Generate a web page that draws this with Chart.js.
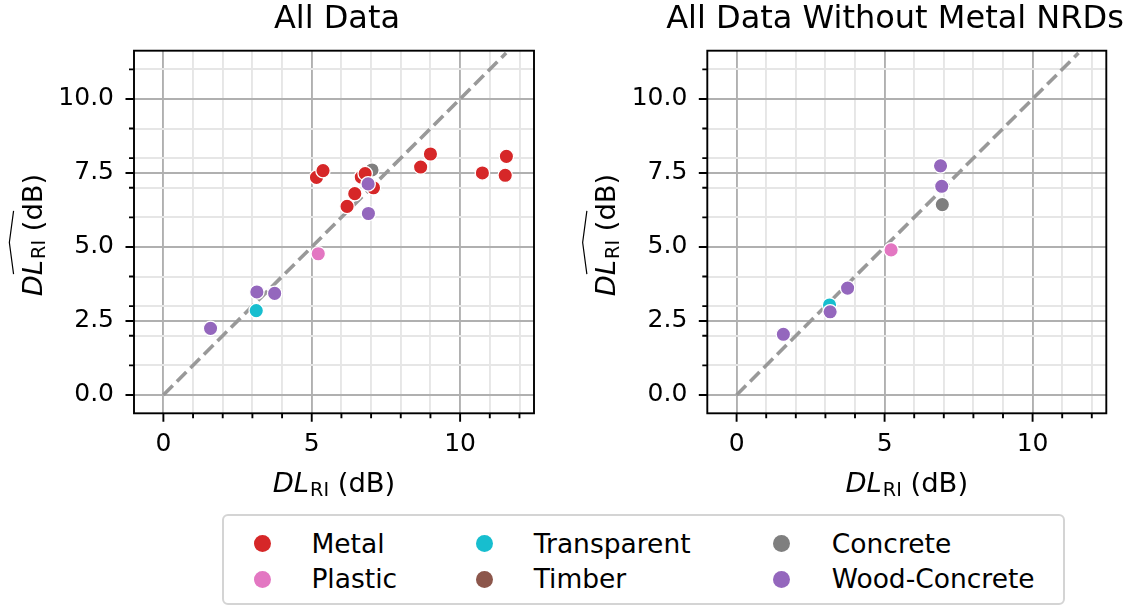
<!DOCTYPE html>
<html><head><meta charset="utf-8">
<script src="https://cdn.jsdelivr.net/npm/chart.js@4.4.0/dist/chart.umd.min.js"></script>
<style>
html,body{margin:0;padding:0;background:#fff;}
body{width:1133px;height:608px;position:relative;overflow:hidden;font-family:"DejaVu Sans";}
.wrap{position:absolute;top:0;height:500px;}
#w1{left:0;width:674px;}
#w2{left:566px;width:658px;}
#legend{position:absolute;left:222px;top:514px;width:843px;height:91px;border:2px solid #d4d4d4;border-radius:6px;box-sizing:border-box;background:#fff;}
.lt{position:absolute;font-size:26.5px;line-height:30px;height:30px;color:#000;white-space:nowrap;}
.ld{position:absolute;width:17px;height:17px;border-radius:50%;}
</style></head>
<body>
<div class="wrap" id="w1"><canvas id="c1"></canvas></div>
<div class="wrap" id="w2"><canvas id="c2"></canvas></div>
<div id="legend"></div>
<script>
// ---------- data ----------
const categories = ['Metal','Plastic','Transparent','Timber','Concrete','Wood-Concrete'];
const colors = ['#d62728','#e377c2','#17becf','#8c564b','#7f7f7f','#9467bd'];

// Panel 1: All Data
const allMetalX = [5.16, 5.38, 6.67, 6.80, 7.08, 6.45, 6.19, 8.67, 9.00, 10.75, 11.56, 11.52];
const allMetalY = [7.35, 7.58, 7.36, 7.48, 7.00, 6.80, 6.37, 7.70, 8.14, 7.50, 8.06, 7.42];
const allPlasticX = [5.22];
const allPlasticY = [4.77];
const allTransparentX = [3.13];
const allTransparentY = [2.85];
const allTimberX = [];
const allTimberY = [];
const allConcreteX = [7.03];
const allConcreteY = [7.60];
const allWoodX = [6.90, 6.91, 3.15, 3.75, 1.59];
const allWoodY = [7.13, 6.13, 3.48, 3.43, 2.25];

// Panel 2: All Data Without Metal NRDs
const noMetalPlasticX = [5.22];
const noMetalPlasticY = [4.90];
const noMetalTransparentX = [3.14];
const noMetalTransparentY = [3.04];
const noMetalTimberX = [];
const noMetalTimberY = [];
const noMetalConcreteX = [6.95];
const noMetalConcreteY = [6.43];
const noMetalWoodX = [6.89, 6.93, 3.75, 3.16, 1.58];
const noMetalWoodY = [7.74, 7.05, 3.61, 2.81, 2.05];

// identity line
const lineX = [0, 11.55];
const lineY = [0, 11.55];

// ticks
const xMajorTicks = [0, 5, 10];
const xMinorTicks = [1, 2, 3, 4, 6, 7, 8, 9, 11, 12];
const yMajorTicks = [0, 2.5, 5, 7.5, 10];
const yMinorTicks = [1, 2, 3, 4, 6, 7, 8, 9, 11];
const xLabels = ['0', '5', '10'];
const yLabels = ['0.0', '2.5', '5.0', '7.5', '10.0'];

const titles = ['All Data', 'All Data Without Metal NRDs'];

// ---------- helpers ----------
Chart.defaults.font.family = '"DejaVu Sans"';
Chart.defaults.color = '#000';
const pts = (xs, ys) => xs.map((x, i) => ({x, y: ys[i]}));

function scatterSet(label, xs, ys, color, order) {
  return {label, data: pts(xs, ys), backgroundColor: color, borderColor: '#ffffff',
          borderWidth: 1.3, pointRadius: 7.2, pointHoverRadius: 7.2, order};
}
function lineSet() {
  return {label: 'identity', data: pts(lineX, lineY), showLine: true, pointRadius: 0,
          borderColor: '#999999', borderWidth: 3.6, borderDash: [13.3, 5.8], order: 10, fill: false};
}

const allX = xMajorTicks.concat(xMinorTicks).sort((a, b) => a - b);
const allY = yMajorTicks.concat(yMinorTicks).sort((a, b) => a - b);

const framePlugin = {
  id: 'frameTicks',
  afterDraw(chart) {
    const {ctx, chartArea: a, scales: {x, y}} = chart;
    ctx.save();
    ctx.strokeStyle = '#000';
    ctx.lineWidth = 1.9;
    ctx.beginPath();
    xMajorTicks.forEach(v => { const p = x.getPixelForValue(v); ctx.moveTo(p, a.bottom); ctx.lineTo(p, a.bottom + 8.5); });
    xMinorTicks.forEach(v => { const p = x.getPixelForValue(v); ctx.moveTo(p, a.bottom); ctx.lineTo(p, a.bottom + 5); });
    yMajorTicks.forEach(v => { const p = y.getPixelForValue(v); ctx.moveTo(a.left, p); ctx.lineTo(a.left - 8.5, p); });
    yMinorTicks.forEach(v => { const p = y.getPixelForValue(v); ctx.moveTo(a.left, p); ctx.lineTo(a.left - 5, p); });
    ctx.stroke();
    ctx.strokeRect(a.left, a.top, a.right - a.left, a.bottom - a.top);
    ctx.restore();
  }
};

const axisTitlePlugin = {
  id: 'axisTitles',
  afterDraw(chart) {
    const {ctx, chartArea: a} = chart;
    const size = 27.4;
    const k = size / 26;
    const parts = [
      {t: 'DL', font: `italic ${size}px "DejaVu Sans"`, dy: 0, gap: 1},
      {t: 'RI', font: `${size * 0.7}px "DejaVu Sans"`, dy: 3.7, gap: 0},
      {t: ' (dB)', font: `${size}px "DejaVu Sans"`, dy: 0, gap: 0}
    ];
    ctx.save();
    ctx.fillStyle = '#000';
    ctx.textBaseline = 'alphabetic';
    ctx.textAlign = 'left';
    const widths = parts.map(p => { ctx.font = p.font; return ctx.measureText(p.t).width + p.gap; });
    const total = widths.reduce((s, w) => s + w, 0);
    const drawParts = () => {
      let u = -total / 2;
      parts.forEach((p, i) => { ctx.font = p.font; ctx.fillText(p.t, u, p.dy); u += widths[i]; });
    };
    // x-axis title
    ctx.save();
    ctx.translate((a.left + a.right) / 2, a.bottom + 79);
    drawParts();
    ctx.restore();
    // y-axis title with wide hat
    ctx.save();
    ctx.translate(a.left - 92.5, (a.top + a.bottom) / 2 + 3);
    ctx.rotate(-Math.PI / 2);
    drawParts();
    const u0 = -total / 2;
    ctx.beginPath();
    ctx.lineWidth = 1.2;
    ctx.strokeStyle = '#000';
    ctx.moveTo(u0 + 21 * k, -26.5 * k);
    ctx.lineTo(u0 + 51 * k, -30.5 * k);
    ctx.lineTo(u0 + 81 * k, -26.5 * k);
    ctx.stroke();
    ctx.restore();
    ctx.restore();
  }
};

function makeChart(id, datasets, title, leftW, rightW) {
  return new Chart(document.getElementById(id), {
    type: 'scatter',
    data: {datasets},
    options: {
      responsive: true,
      maintainAspectRatio: false,
      animation: false,
      events: [],
      layout: {padding: 0},
      plugins: {
        legend: {display: false},
        tooltip: {enabled: false},
        title: {display: true, text: title, font: {size: 32, weight: 'normal'}, color: '#000',
                padding: {top: 0.5, bottom: 11.8}}
      },
      scales: {
        x: {
          type: 'linear', position: 'bottom', min: -0.99, max: 12.49,
          afterBuildTicks: s => { s.ticks = allX.map(v => ({value: v})); },
          afterFit: s => { s.height = 86.7; },
          ticks: {autoSkip: false, maxRotation: 0, padding: 16, font: {size: 25}, color: '#000',
                  callback: v => { const i = xMajorTicks.indexOf(v); return i >= 0 ? xLabels[i] : ''; }},
          grid: {drawTicks: false, lineWidth: 1.9,
                 color: c => (c.tick && xMajorTicks.includes(c.tick.value)) ? '#b0b0b0' : '#e6e6e6'},
          border: {display: false}
        },
        y: {
          type: 'linear', position: 'left', min: -0.62, max: 11.63,
          afterBuildTicks: s => { s.ticks = allY.map(v => ({value: v})); },
          afterFit: s => { s.width = leftW; },
          ticks: {autoSkip: false, padding: 20, font: {size: 25}, color: '#000',
                  callback: v => { const i = yMajorTicks.indexOf(v); return i >= 0 ? yLabels[i] : ''; }},
          grid: {drawTicks: false, lineWidth: 1.9,
                 color: c => (c.tick && yMajorTicks.includes(c.tick.value)) ? '#b0b0b0' : '#e6e6e6'},
          border: {display: false}
        },
        yr: {
          type: 'linear', position: 'right', min: 0, max: 1, display: true,
          afterFit: s => { s.width = rightW; },
          ticks: {display: false}, grid: {display: false, drawTicks: false}, border: {display: false}
        }
      }
    },
    plugins: [framePlugin, axisTitlePlugin]
  });
}

const ds1 = [
  scatterSet(categories[5], allWoodX, allWoodY, colors[5], 0),
  scatterSet(categories[0], allMetalX, allMetalY, colors[0], 1),
  scatterSet(categories[1], allPlasticX, allPlasticY, colors[1], 2),
  scatterSet(categories[2], allTransparentX, allTransparentY, colors[2], 3),
  scatterSet(categories[3], allTimberX, allTimberY, colors[3], 4),
  scatterSet(categories[4], allConcreteX, allConcreteY, colors[4], 5),
  lineSet()
];
const ds2 = [
  scatterSet(categories[5], noMetalWoodX, noMetalWoodY, colors[5], 0),
  scatterSet(categories[1], noMetalPlasticX, noMetalPlasticY, colors[1], 2),
  scatterSet(categories[2], noMetalTransparentX, noMetalTransparentY, colors[2], 3),
  scatterSet(categories[3], noMetalTimberX, noMetalTimberY, colors[3], 4),
  scatterSet(categories[4], noMetalConcreteX, noMetalConcreteY, colors[4], 5),
  lineSet()
];

makeChart('c1', ds1, titles[0], 134, 140);
makeChart('c2', ds2, titles[1], 141.3, 117.7);

// ---------- legend ----------
const legend = document.getElementById('legend');
const legendColX = [[40.3, 89.4], [262.7, 311.7], [559.7, 609.8]]; // marker centre, text left
const legendRowY = [29.5, 65];
const legendOrder = [0, 1, 2, 3, 4, 5]; // column-major: Metal, Plastic | Transparent, Timber | Concrete, Wood-Concrete
legendOrder.forEach((ci, k) => {
  const col = Math.floor(k / 2), row = k % 2;
  const d = document.createElement('div');
  d.className = 'ld';
  d.style.background = colors[ci];
  d.style.left = (legendColX[col][0] - 8.5 - 2) + 'px';
  d.style.top = (legendRowY[row] - 8.5 - 2) + 'px';
  legend.appendChild(d);
  const t = document.createElement('div');
  t.className = 'lt';
  t.textContent = categories[ci];
  t.style.left = (legendColX[col][1] - 2) + 'px';
  t.style.top = (legendRowY[row] - 15 - 2) + 'px';
  legend.appendChild(t);
});
</script>
</body></html>
